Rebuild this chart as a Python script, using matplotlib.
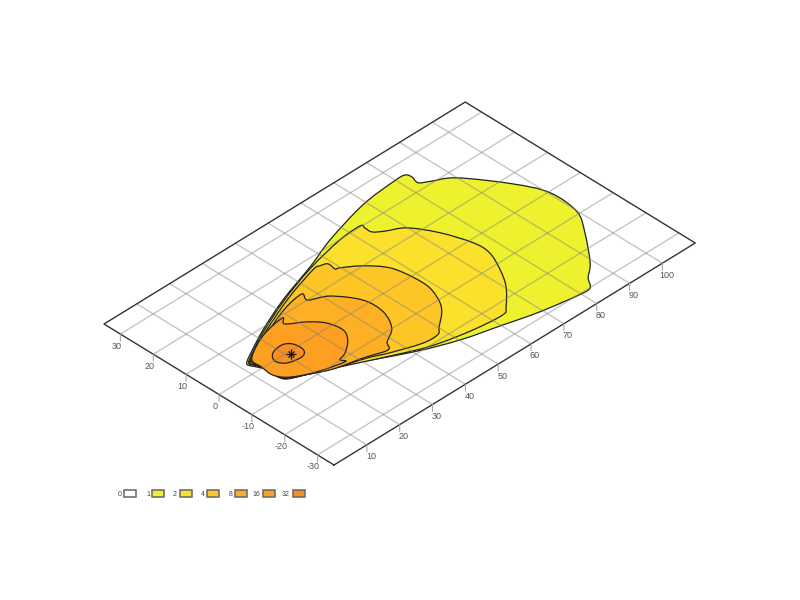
import matplotlib
matplotlib.use('Agg')
import matplotlib.pyplot as plt
import numpy as np
from matplotlib.patches import PathPatch, Rectangle
from matplotlib.path import Path
from matplotlib.transforms import Affine2D

plt.rcParams['font.family'] = ['Liberation Sans', 'DejaVu Sans']

# contour outlines, downwind distance x and crosswind y
level_1_x = [12.3, 14.5, 22.7, 33.2, 45.9, 55.2, 68.9, 79.2, 82.7, 83.3, 82.8, 84.9, 89.9, 96.9, 100.4, 99.8, 95.8, 89.1, 85.1, 82.9, 79.6, 70.3, 65, 60.4, 50.2, 40, 23.5, 15.4, 13.4, 13.4, 12.6, 11.7]
level_1_y = [3.8, 5.1, 9.3, 13.7, 17.9, 21.4, 25.1, 26.2, 26.1, 24.5, 22.2, 20.7, 17.5, 7.5, -0.4, -9.2, -15.6, -23.9, -27.3, -30.1, -30.2, -28.6, -27.3, -26, -23.2, -19, -10.3, -7.2, -5.2, -1.2, 1, 2.9]
level_2_x = [13.8, 21.3, 33.2, 45.4, 56.7, 63.3, 63.5, 63.6, 65.8, 69.9, 73.7, 76.3, 76.3, 73.7, 70.4, 65.4, 62.9, 54.7, 46.4, 39.8, 23.2, 15.5, 13.5, 13.6, 12.9, 12.2]
level_2_y = [4.3, 8.3, 13.4, 17.4, 19.9, 20.3, 19.1, 17, 15.2, 12.7, 6.5, -1.1, -6.1, -11.9, -17, -22, -23.5, -22.7, -20.9, -18.5, -10.6, -7.1, -5.1, -1, 1.3, 3]
level_4_x = [14, 21.6, 34.2, 45.2, 47.3, 49, 48.8, 49.8, 53.8, 57.4, 58.6, 58.5, 56.5, 54.1, 50.2, 48.1, 43.6, 36.1, 31.5, 23.1, 15.6, 13.6, 13.7, 13, 12.5]
level_4_y = [4.2, 8, 13.2, 16.6, 16.5, 15.8, 13.4, 13, 10, 5.4, -0.4, -5.7, -10.7, -13.7, -16.8, -18.5, -18.3, -15.6, -13.5, -10.7, -7, -5, -0.9, 1.4, 3.1]
level_8_x = [13.8, 22, 31.2, 37.5, 36.9, 41.3, 45.3, 45.5, 42.8, 38.6, 36.7, 31, 23, 15.8, 13.9, 13.9, 13.1, 13]
level_8_y = [3.8, 7.6, 11.2, 12.3, 9.9, 7.5, 1.5, -4.5, -9.8, -12.6, -14.7, -12.9, -10.8, -6.8, -4.7, -0.7, 1.5, 3.2]
level_16_x = [13.6, 18.1, 23, 28.7, 27.5, 31.4, 34.1, 34.9, 33.1, 29.5, 27, 27.3, 20.5, 15.1, 13, 13.3]
level_16_y = [3.6, 6.5, 8.4, 9.3, 7.5, 4.6, 1.3, -2.9, -6.1, -8.9, -9.8, -11.1, -9.3, -6.5, -3.4, 0.3]
level_32_x = [18.5, 21.9, 23.8, 23.9, 21.9, 18.1, 16.8]
level_32_y = [2.1, 2.7, 1.2, -1.9, -3.3, -2.5, -0.2]

source_x = 21
source_y = -1

levels = ['0', '1', '2', '4', '8', '16', '32']
colors = ['#ffffff', '#eef22e', '#fbe12b', '#fdc626', '#feb024', '#fd9f20', '#fb8f1e']
x_ticks = list(range(10, 101, 10))
y_ticks = list(range(-30, 31, 10))
x_min, x_max = 0, 110
y_min, y_max = -35, 35


def smooth_outline(cx, cy):
    # closed bezier through the read points
    pts = np.column_stack([cx, cy])
    n = len(pts)
    verts = [pts[0]]
    codes = [Path.MOVETO]
    for i in range(n):
        p0, p1, p2, p3 = pts[i - 1], pts[i], pts[(i + 1) % n], pts[(i + 2) % n]
        verts += [p1 + (p2 - p0) / 6, p2 - (p3 - p1) / 6, p2]
        codes += [Path.CURVE4] * 3
    return Path(np.array(verts), codes)


fig = plt.figure(figsize=(8, 6), dpi=100)
ax = fig.add_axes([0, 0, 1, 1])
ax.set_xlim(0, 800)
ax.set_ylim(600, 0)
ax.axis('off')

# tilted map plane, data units to figure pixels
plane = Affine2D.from_values(3.284, -2.018, -3.286, -2.014, 219, 394.5) + ax.transData

contours = [(level_1_x, level_1_y), (level_2_x, level_2_y), (level_4_x, level_4_y),
            (level_8_x, level_8_y), (level_16_x, level_16_y), (level_32_x, level_32_y)]
for i, (cx, cy) in enumerate(contours):
    ax.add_patch(PathPatch(smooth_outline(cx, cy), facecolor=colors[i + 1], edgecolor='#222222',
                           lw=0.9, joinstyle='round', transform=plane, zorder=2))

# grid shows through the fill
for v in range(10, 101, 10):
    ax.plot([v, v], [y_min, y_max], color='#808080', alpha=0.45, lw=1, transform=plane, zorder=3)
for v in y_ticks:
    ax.plot([x_min, x_max], [v, v], color='#808080', alpha=0.45, lw=1, transform=plane, zorder=3)

ax.plot([x_min, x_max, x_max, x_min, x_min], [y_min, y_min, y_max, y_max, y_min],
        color='#333333', lw=1, transform=plane, zorder=4)

for t in x_ticks:
    ax.annotate('', xy=(t, y_min), xycoords=plane, xytext=(0, -7), textcoords='offset pixels',
                arrowprops=dict(arrowstyle='-', color='#aaaaaa', lw=0.8, shrinkA=0, shrinkB=0), zorder=4)
    ax.annotate(str(t), xy=(t, y_min), xycoords=plane, xytext=(4, -12), textcoords='offset pixels',
                ha='center', va='center', fontsize=6.5, color='#555555')
for t in y_ticks:
    ax.annotate('', xy=(x_min, t), xycoords=plane, xytext=(0, -7), textcoords='offset pixels',
                arrowprops=dict(arrowstyle='-', color='#aaaaaa', lw=0.8, shrinkA=0, shrinkB=0), zorder=4)
    ax.annotate(str(t), xy=(x_min, t), xycoords=plane, xytext=(-4, -12), textcoords='offset pixels',
                ha='center', va='center', fontsize=6.5, color='#555555')

ax.plot([source_x], [source_y], marker='+', ms=6.5, mec='#111111', mew=0.9, transform=plane, zorder=5)
ax.plot([source_x], [source_y], marker='x', ms=4.5, mec='#111111', mew=0.9, transform=plane, zorder=5)

# legend row
box_left = [124, 152, 180, 207, 235, 263, 293]
label_right = [122, 150, 177, 205, 233, 260, 290]
for i, lev in enumerate(levels):
    ax.add_patch(Rectangle((box_left[i], 490), 12, 7, facecolor=colors[i], edgecolor='#666666', lw=1.1))
    ax.text(label_right[i], 494, lev, ha='right', va='center', fontsize=5, color='#444444')

plt.savefig('out.png', dpi=100)
